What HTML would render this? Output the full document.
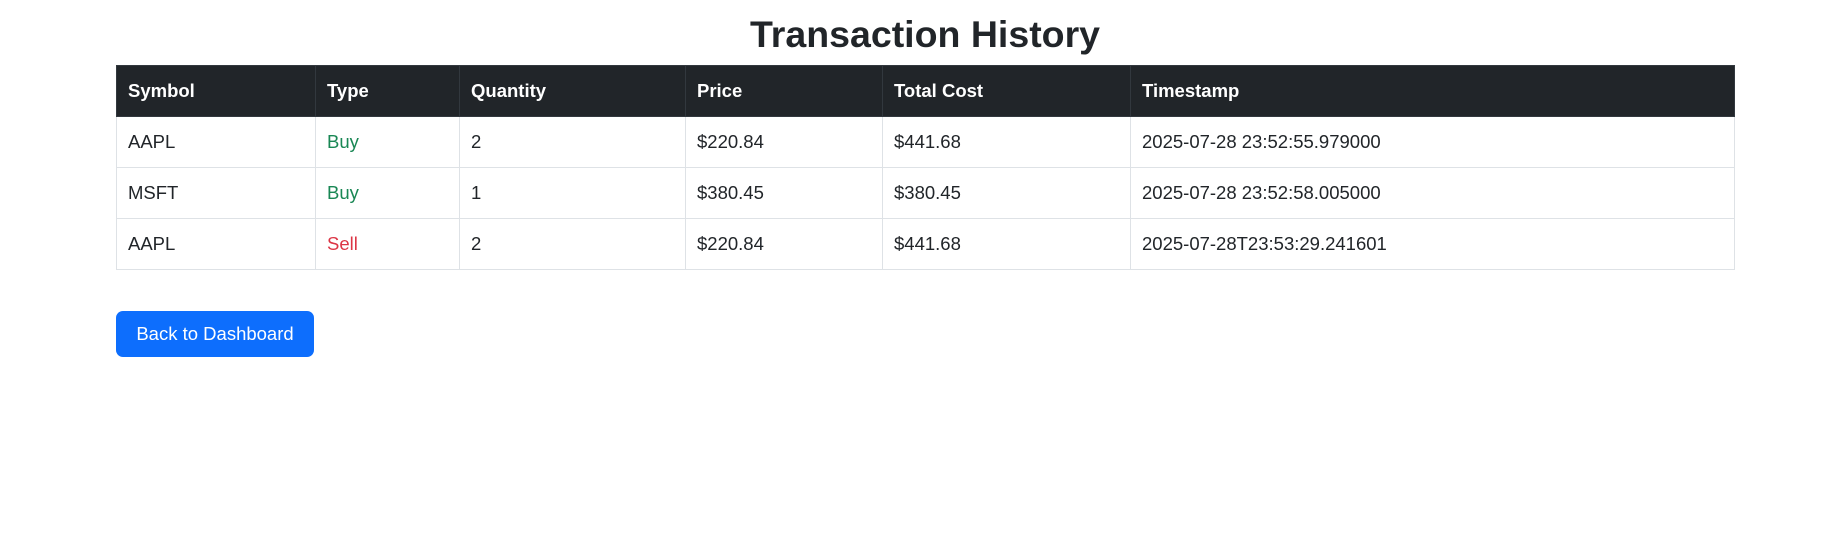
<!DOCTYPE html>
<html><head><meta charset="utf-8"><style>
html,body{margin:0;padding:0;background:#fff;width:1822px;height:545px;overflow:hidden;font-family:"Liberation Sans",sans-serif;color:#212529}
h1{position:absolute;left:116px;width:1618px;top:9px;margin:0;text-align:center;font-size:37.5px;font-weight:bold;line-height:50px}
table{position:absolute;left:116px;top:65px;width:1618px;border-collapse:collapse;font-size:18.5px;table-layout:fixed}
th{background:#212529;color:#fff;text-align:left;height:50px;padding:0 11px;border:1px solid #32383e;font-weight:bold}
td{height:50px;padding:0 11px;border:1px solid #dee2e6}
.buy{color:#198754}.sell{color:#dc3545}
.btn{position:absolute;left:116px;top:311px;width:198px;height:46px;background:#0d6efd;color:#fff;border-radius:7px;font-size:18.5px;line-height:46px;text-align:center}
</style></head><body>
<h1>Transaction History</h1>
<table>
<colgroup><col style="width:199px"><col style="width:144px"><col style="width:226px"><col style="width:197px"><col style="width:248px"><col style="width:604px"></colgroup>
<tr><th>Symbol</th><th>Type</th><th>Quantity</th><th>Price</th><th>Total Cost</th><th>Timestamp</th></tr>
<tr><td>AAPL</td><td class="buy">Buy</td><td>2</td><td>$220.84</td><td>$441.68</td><td>2025-07-28 23:52:55.979000</td></tr>
<tr><td>MSFT</td><td class="buy">Buy</td><td>1</td><td>$380.45</td><td>$380.45</td><td>2025-07-28 23:52:58.005000</td></tr>
<tr><td>AAPL</td><td class="sell">Sell</td><td>2</td><td>$220.84</td><td>$441.68</td><td>2025-07-28T23:53:29.241601</td></tr>
</table>
<div class="btn">Back to Dashboard</div>
</body></html>
